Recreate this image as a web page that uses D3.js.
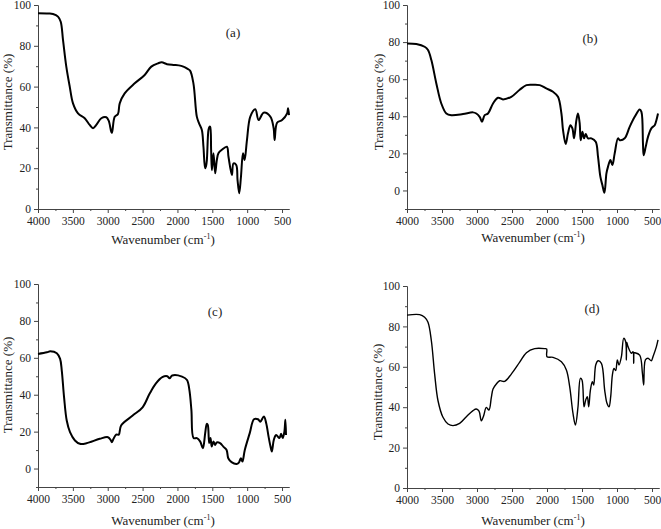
<!DOCTYPE html>
<html>
<head>
<meta charset="utf-8">
<script src="https://cdn.jsdelivr.net/npm/d3@7/dist/d3.min.js"></script>
<style>
  body { margin: 0; background: #fff; }
  text { font-family: "Liberation Serif", "Times New Roman", serif; fill: #222; }
</style>
</head>
<body>
<svg id="chart" width="661" height="529"></svg>
<script>
// spectrum (a) : wavenumber (cm-1) and transmittance (%)
var wnA = [4000, 3850, 3785, 3713, 3674, 3641, 3594, 3545, 3498, 3426, 3330, 3258, 3211, 3164, 3092, 3020, 2986, 2949, 2939, 2900, 2853, 2828, 2757, 2613, 2470, 2375, 2279, 2226, 2150, 2059, 1980, 1915, 1860, 1819, 1771, 1722, 1690, 1650, 1627, 1603, 1590, 1578, 1555, 1540, 1531, 1517, 1506, 1483, 1459, 1435, 1412, 1363, 1291, 1268, 1219, 1196, 1157, 1138, 1114, 1089, 1060, 1037, 1003, 955, 883, 836, 764, 668, 620, 606, 571, 499, 427, 413, 400];
var tA  = [95.9, 95.8, 95.6, 94.3, 91.8, 82.8, 69.8, 60.0, 51.8, 46.9, 44.5, 41.2, 39.6, 41.2, 44.5, 45.0, 43.3, 37.9, 37.4, 45.2, 46.6, 51.8, 56.7, 61.6, 65.7, 69.8, 71.4, 71.9, 71.0, 70.6, 70.4, 69.8, 68.8, 67.8, 61.6, 45.3, 42.0, 38.7, 30.5, 20.0, 21.0, 24.0, 38.7, 40.3, 40.3, 29.0, 19.0, 27.3, 17.5, 24.0, 27.3, 29.0, 30.5, 25.6, 16.7, 22.4, 21.6, 14.2, 7.7, 15.8, 27.3, 24.0, 33.8, 45.3, 48.9, 43.6, 47.2, 45.3, 39.5, 33.8, 42.3, 43.6, 46.9, 49.4, 46.0];

// spectrum (b)
var wnB = [4000, 3867, 3748, 3700, 3652, 3581, 3510, 3438, 3367, 3200, 3057, 3010, 2962, 2929, 2890, 2843, 2771, 2700, 2629, 2510, 2390, 2294, 2200, 2104, 2010, 1914, 1843, 1794, 1771, 1733, 1700, 1666, 1637, 1614, 1580, 1557, 1533, 1519, 1494, 1471, 1447, 1414, 1366, 1304, 1271, 1237, 1209, 1180, 1151, 1129, 1094, 1066, 1033, 986, 961, 890, 819, 747, 676, 651, 629, 619, 590, 557, 509, 461, 437, 414];
var tB  = [79.3, 79.0, 77.5, 75.7, 70.3, 57.7, 46.9, 41.5, 40.6, 41.2, 42.1, 41.5, 39.7, 37.1, 40.6, 41.5, 46.9, 50.0, 49.1, 50.5, 54.3, 56.8, 57.0, 56.8, 55.0, 53.2, 50.5, 41.5, 32.5, 25.0, 30.8, 35.2, 33.5, 28.1, 37.9, 41.5, 36.2, 27.1, 31.6, 28.1, 30.4, 28.1, 28.1, 26.2, 18.1, 7.3, 2.9, -1.3, 9.2, 12.7, 16.4, 13.7, 20.0, 28.1, 27.1, 28.1, 34.3, 39.7, 43.7, 42.4, 25.4, 19.0, 23.5, 28.9, 33.5, 35.2, 37.9, 41.5];

// spectrum (c)
var wnC = [4000, 3872, 3825, 3730, 3683, 3659, 3626, 3588, 3541, 3470, 3399, 3305, 3115, 2997, 2959, 2940, 2917, 2879, 2841, 2808, 2642, 2500, 2400, 2311, 2217, 2146, 2113, 2075, 1934, 1863, 1829, 1800, 1768, 1721, 1673, 1635, 1602, 1579, 1565, 1545, 1526, 1508, 1484, 1460, 1437, 1389, 1342, 1295, 1271, 1224, 1153, 1119, 1091, 1068, 1034, 963, 902, 845, 812, 760, 727, 693, 665, 646, 618, 585, 537, 514, 490, 466, 452, 443];
var tC  = [62.1, 63.0, 63.5, 62.5, 59.4, 53.1, 38.6, 26.0, 19.7, 15.2, 13.4, 13.7, 16.1, 17.0, 15.5, 14.3, 16.1, 18.4, 18.4, 23.3, 28.7, 33.2, 40.5, 46.0, 49.5, 50.0, 48.9, 50.4, 49.8, 48.0, 42.6, 31.8, 16.5, 16.5, 14.6, 11.0, 19.2, 24.2, 23.7, 13.8, 16.5, 11.9, 14.6, 12.8, 14.1, 13.8, 11.9, 10.1, 5.6, 3.5, 2.5, 3.2, 5.6, 3.8, 10.1, 19.2, 26.7, 26.7, 25.4, 28.2, 24.6, 17.3, 11.9, 9.2, 15.5, 18.2, 16.5, 18.8, 16.5, 20.0, 26.4, 18.2];

// spectrum (d)
var wnD = [4000, 3819, 3748, 3700, 3652, 3605, 3557, 3486, 3414, 3343, 3248, 3152, 3057, 3010, 2971, 2938, 2905, 2867, 2829, 2795, 2771, 2724, 2676, 2605, 2510, 2390, 2294, 2176, 2033, 2005, 2000, 1914, 1794, 1723, 1676, 1629, 1594, 1557, 1523, 1500, 1471, 1447, 1424, 1404, 1380, 1352, 1333, 1304, 1271, 1223, 1176, 1143, 1114, 1090, 1066, 1043, 1019, 995, 971, 937, 904, 876, 866, 860, 843, 794, 771, 761, 755, 747, 676, 637, 619, 594, 557, 509, 486, 437, 414];
var tD  = [85.6, 85.8, 84.5, 82.0, 72.9, 56.4, 43.2, 35.0, 31.7, 30.9, 32.0, 35.3, 38.3, 39.1, 38.0, 33.3, 35.8, 39.9, 38.6, 44.9, 49.0, 51.5, 53.1, 52.8, 56.4, 62.3, 67.0, 69.0, 69.0, 68.8, 65.0, 64.7, 62.5, 58.4, 50.2, 37.0, 31.2, 40.2, 54.3, 53.5, 40.2, 43.6, 45.2, 40.2, 48.5, 52.6, 51.0, 60.9, 63.0, 61.7, 48.5, 41.9, 40.2, 45.2, 55.9, 59.2, 58.1, 63.4, 60.9, 65.0, 74.1, 72.4, 63.4, 72.0, 70.0, 66.7, 67.5, 61.7, 67.0, 67.0, 65.8, 56.8, 51.0, 63.4, 64.2, 63.0, 65.0, 70.0, 73.3];

var xTicks = [4000, 3500, 3000, 2500, 2000, 1500, 1000, 500];
var xMinor = [3750, 3250, 2750, 2250, 1750, 1250, 750];
var yTicks = [0, 20, 40, 60, 80, 100];
var yMinor = [-10, 10, 30, 50, 70, 90];

var svg = d3.select("#chart");

// layout of the 4 panels (pixel boxes)
var panels = [
    {name: "(a)", wn: wnA, t: tA, xr: [38, 289], yr: [209, 5], yMin: 0, lw: 2.0, lab: [233, 37], xt: [163, 244], yt: [12, 102]},
    {name: "(b)", wn: wnB, t: tB, xr: [407, 659], yr: [209, 5], yMin: -10, lw: 2.0, lab: [590, 43], xt: [533, 242], yt: [383, 102]},
    {name: "(c)", wn: wnC, t: tC, xr: [38, 289], yr: [487, 284], yMin: -10, lw: 2.0, lab: [215, 316], xt: [163, 525], yt: [12, 385]},
    {name: "(d)", wn: wnD, t: tD, xr: [407, 659], yr: [488, 286], yMin: 0, lw: 1.4, lab: [592, 313], xt: [533, 525], yt: [382, 392]}
];

panels.forEach(drawPanel);

function drawPanel(p) {
    var x = d3.scaleLinear().domain([4000, 400]).range(p.xr);
    var y = d3.scaleLinear().domain([p.yMin, 100]).range(p.yr);
    var g = svg.append("g");

    // major + minor ticks, outward like Origin
    g.append("g").attr("transform", "translate(0," + p.yr[0] + ")")
        .call(d3.axisBottom(x).tickValues(xTicks).tickFormat(d3.format("d")).tickSize(4).tickPadding(4).tickSizeOuter(0));
    g.append("g").attr("transform", "translate(0," + p.yr[0] + ")")
        .call(d3.axisBottom(x).tickValues(xMinor).tickSize(2).tickFormat("").tickSizeOuter(0));
    g.append("g").attr("transform", "translate(" + p.xr[0] + ",0)")
        .call(d3.axisLeft(y).tickValues(yTicks).tickFormat(d3.format("d")).tickSize(4).tickPadding(3).tickSizeOuter(0));
    g.append("g").attr("transform", "translate(" + p.xr[0] + ",0)")
        .call(d3.axisLeft(y).tickValues(yMinor.filter(function (v) { return v >= p.yMin; })).tickSize(2).tickFormat("").tickSizeOuter(0));

    g.selectAll("g").attr("font-family", null);
    g.selectAll(".domain, .tick line").attr("stroke", "#444").attr("stroke-width", 1);
    g.selectAll(".tick text").style("font-size", "11.5px").attr("fill", "#222");

    var data = p.wn.map(function (w, i) { return [w, p.t[i]]; });
    var line = d3.line().curve(d3.curveCatmullRom.alpha(0.5))
        .x(function (d) { return x(d[0]); }).y(function (d) { return y(d[1]); });
    g.append("path").datum(data)
        .attr("d", line)
        .attr("fill", "none")
        .attr("stroke", "#000")
        .attr("stroke-width", p.lw)
        .attr("stroke-linejoin", "round");

    g.append("text").attr("x", p.lab[0]).attr("y", p.lab[1])
        .attr("text-anchor", "middle").style("font-size", "13px").text(p.name);

    var xt = g.append("text").attr("x", p.xt[0]).attr("y", p.xt[1])
        .attr("text-anchor", "middle").style("font-size", "13px");
    xt.append("tspan").text("Wavenumber (cm");
    xt.append("tspan").attr("dy", -5).style("font-size", "8px").text("-1");
    xt.append("tspan").attr("dy", 5).text(")");

    g.append("text")
        .attr("transform", "translate(" + p.yt[0] + "," + p.yt[1] + ") rotate(-90)")
        .attr("text-anchor", "middle").style("font-size", "13px")
        .text("Transmittance (%)");
}
</script>
</body>
</html>
